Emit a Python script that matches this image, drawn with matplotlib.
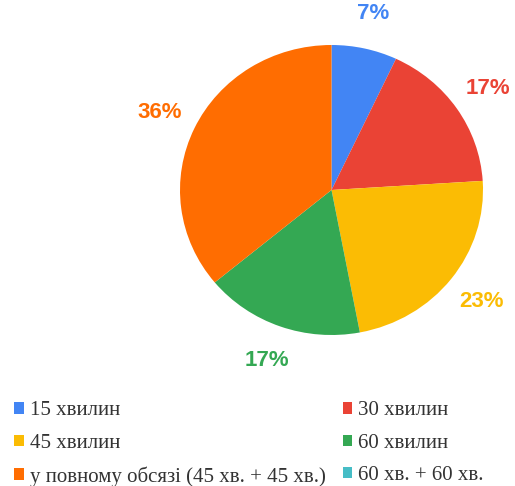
import matplotlib
matplotlib.use("Agg")
import matplotlib.pyplot as plt

# дані
labels = ["15 хвилин", "30 хвилин", "45 хвилин", "60 хвилин",
          "у повному обсязі (45 хв. + 45 хв.)", "60 хв. + 60 хв."]
values = [7, 17, 23, 17, 36, 0]
colors = ["#4285F4", "#EA4335", "#FBBC04", "#34A853", "#FF6D01", "#46BDC6"]

fig = plt.figure(figsize=(5.15, 4.86), dpi=100)
# коло трохи розтягнуте по горизонталі, як на оригіналі
ax = fig.add_axes([180/515, 151/486, 303/515, 290/486])

wedges, texts, autotexts = ax.pie(values, colors=colors, startangle=90, counterclock=False,
                                  radius=1, autopct=lambda p: f"{p:.0f}%" if p > 0 else "",
                                  pctdistance=1.25, wedgeprops=dict(linewidth=0))
for t, c in zip(autotexts, colors):
    t.set_color(c)
    t.set_fontsize(16)
    t.set_fontweight("bold")
    t.set_family("Liberation Sans")
ax.set_xlim(-1, 1)
ax.set_ylim(-1, 1)
ax.set_aspect("auto")

# легенда по рядках, 2 колонки
order = [0, 2, 4, 1, 3, 5]
leg = fig.legend([wedges[i] for i in order], [labels[i] for i in order],
                 ncol=2, loc="upper left", bbox_to_anchor=(6/515, 1 - 393/486),
                 frameon=False, handlelength=0.45, handleheight=0.45, handletextpad=0.3,
                 columnspacing=0.8, labelspacing=0.64, borderaxespad=0,
                 prop={"family": "Liberation Serif", "size": 15})
for t in leg.get_texts():
    t.set_color("#333333")

fig.savefig("out.png", dpi=100)
